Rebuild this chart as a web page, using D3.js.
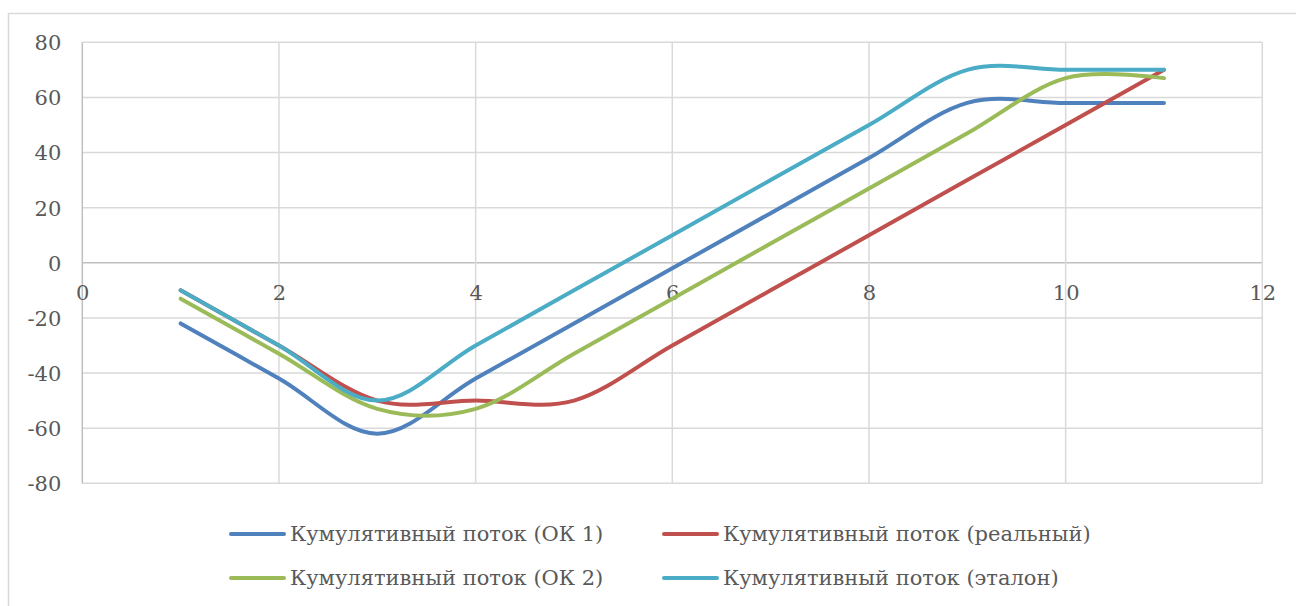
<!DOCTYPE html>
<html>
<head>
<meta charset="utf-8">
<script src="https://cdn.jsdelivr.net/npm/d3@7"></script>
<style>
  html, body { margin: 0; padding: 0; background: #fff; }
  svg { display: block; }
  text { font-family: "DejaVu Serif", "Liberation Serif", serif; fill: #595959; }
</style>
</head>
<body>
<svg id="chart" width="1296" height="606"></svg>
<script>
// Period numbers (x values)
const periods = [1, 2, 3, 4, 5, 6, 7, 8, 9, 10, 11];

// Cumulative flow series
const flowOK1      = [-22, -42, -62, -42, -22, -2, 18, 38, 58, 58, 58];
const flowReal     = [-10, -30, -50, -50, -50, -30, -10, 10, 30, 50, 70];
const flowOK2      = [-13, -33, -53, -53, -33, -13, 7, 27, 47, 67, 67];
const flowEtalon   = [-10, -30, -50, -30, -10, 10, 30, 50, 70, 70, 70];

const seriesNames = [
  "Кумулятивный поток (ОК 1)",
  "Кумулятивный поток (реальный)",
  "Кумулятивный поток (ОК 2)",
  "Кумулятивный поток (эталон)"
];
const seriesColors = ["#4F81BD", "#C0504D", "#9BBB59", "#4BACC6"];

const xTicks = [0, 2, 4, 6, 8, 10, 12];
const yTicks = [-80, -60, -40, -20, 0, 20, 40, 60, 80];

const series = [flowOK1, flowReal, flowOK2, flowEtalon].map((vals, i) => ({
  name: seriesNames[i],
  color: seriesColors[i],
  points: periods.map((p, j) => [p, vals[j]])
}));

const svg = d3.select("#chart");

// Outer chart frame
svg.append("rect")
  .attr("x", 8.5).attr("y", 13.5)
  .attr("width", 1400).attr("height", 700)
  .attr("fill", "none").attr("stroke", "#d9d9d9").attr("stroke-width", 1.5);

const plot = { left: 82.3, right: 1262.3, top: 42.3, bottom: 483.3 };

const x = d3.scaleLinear().domain([0, 12]).range([plot.left, plot.right]);
const y = d3.scaleLinear().domain([-80, 80]).range([plot.bottom, plot.top]);

// Plain hyphen-minus labels
const plainNum = d => String(d);

// Gridlines
const grid = svg.append("g");
grid.selectAll("line.h").data(yTicks).join("line")
  .attr("x1", plot.left).attr("x2", plot.right)
  .attr("y1", d => y(d)).attr("y2", d => y(d))
  .attr("stroke", d => d === 0 ? "#bfbfbf" : "#d9d9d9").attr("stroke-width", 1.5);
grid.selectAll("line.v").data(xTicks.filter(d => d !== 0)).join("line")
  .attr("y1", plot.top).attr("y2", plot.bottom)
  .attr("x1", d => x(d)).attr("x2", d => x(d))
  .attr("stroke", "#d9d9d9").attr("stroke-width", 1.5);
// Vertical value axis line
svg.append("line")
  .attr("x1", x(0)).attr("x2", x(0)).attr("y1", plot.top).attr("y2", plot.bottom)
  .attr("stroke", "#bfbfbf").attr("stroke-width", 1.5);

// Y axis labels
const yAxis = d3.axisLeft(y).tickValues(yTicks).tickFormat(plainNum).tickSize(0).tickPadding(21);
const gy = svg.append("g").attr("transform", `translate(${plot.left},0)`).call(yAxis);
gy.select(".domain").remove();
gy.selectAll("text")
  .style("font-family", '"DejaVu Serif", serif')
  .style("font-size", "21px").attr("fill", "#595959").attr("dy", "0.35em");

// X axis labels, placed under the zero line
const xAxis = d3.axisBottom(x).tickValues(xTicks).tickFormat(plainNum).tickSize(0).tickPadding(22);
const gx = svg.append("g").attr("transform", `translate(0,${y(0)})`).call(xAxis);
gx.select(".domain").remove();
gx.selectAll("text")
  .style("font-family", '"DejaVu Serif", serif')
  .style("font-size", "21px").attr("fill", "#595959");

// Smoothed series lines
const line = d3.line()
  .x(d => x(d[0])).y(d => y(d[1]))
  .curve(d3.curveCardinal.tension(0));

svg.append("g").selectAll("path").data(series).join("path")
  .attr("d", d => line(d.points))
  .attr("fill", "none")
  .attr("stroke", d => d.color)
  .attr("stroke-width", 4)
  .attr("stroke-linecap", "round")
  .attr("stroke-linejoin", "round");

// Legend, two columns by two rows
const legendCols = [231, 664];
const legendRows = [534, 578];
const lg = svg.append("g").selectAll("g").data(series).join("g")
  .attr("transform", (d, i) => `translate(${legendCols[i % 2]},${legendRows[Math.floor(i / 2)]})`);
lg.append("line")
  .attr("x1", 0).attr("x2", 53).attr("y1", 0).attr("y2", 0)
  .attr("stroke", d => d.color).attr("stroke-width", 4).attr("stroke-linecap", "round");
lg.append("text")
  .attr("x", 59).attr("y", 0).attr("dy", "0.35em")
  .style("font-size", "21px")
  .text(d => d.name);
</script>
</body>
</html>
